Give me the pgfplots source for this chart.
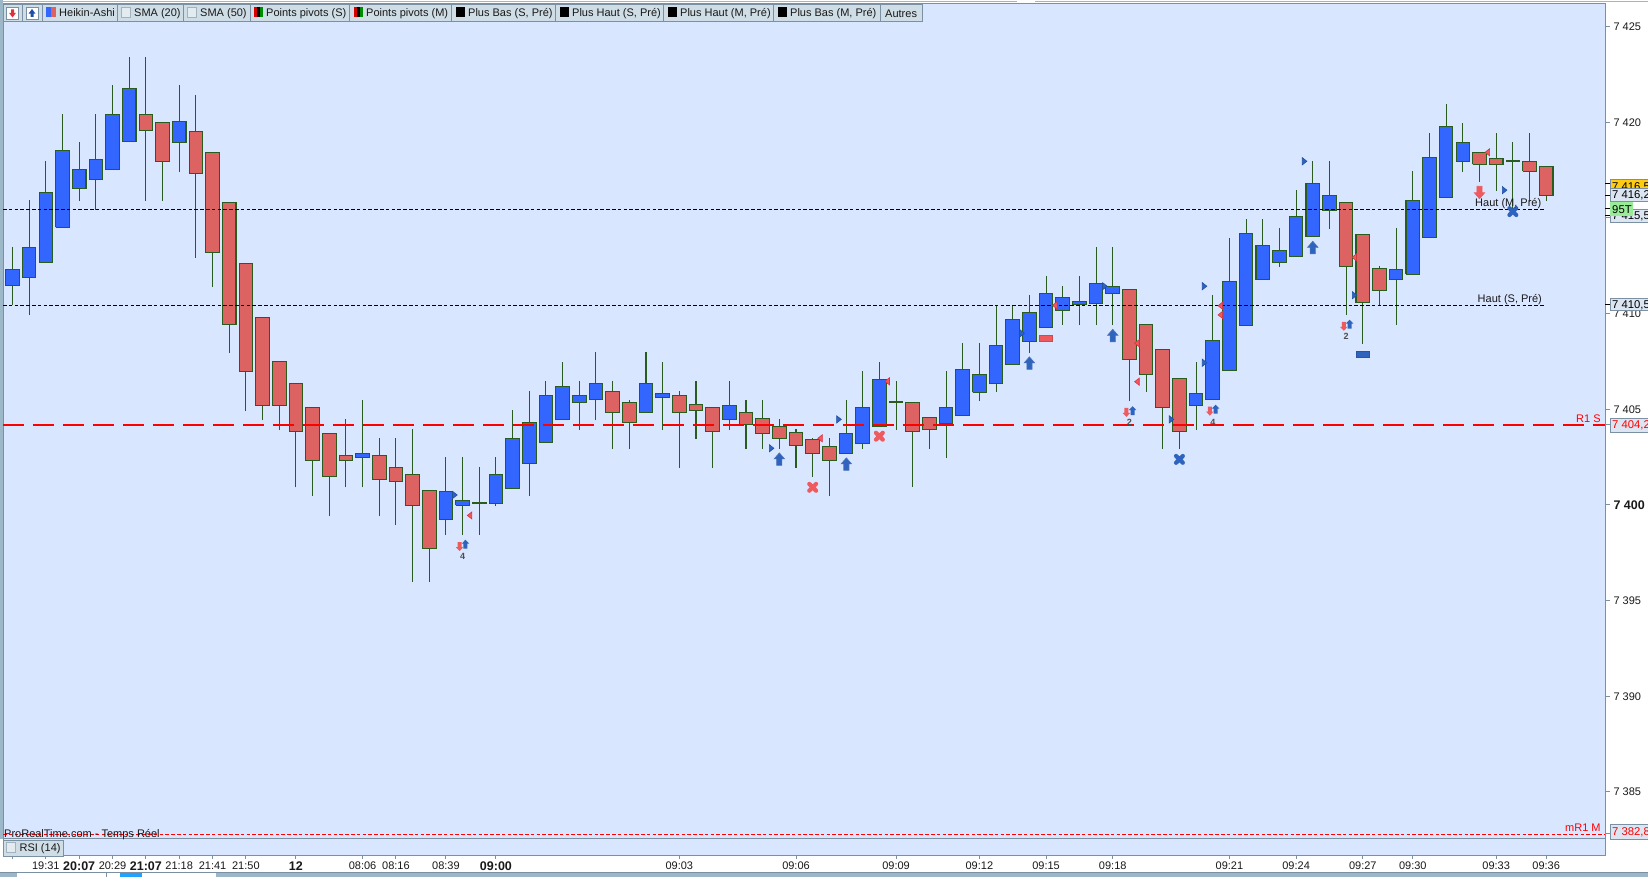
\documentclass[border=0pt]{standalone}
\usepackage{fontspec}
\setmainfont{Liberation Sans}
\usepackage{pgfplots}
\pgfplotsset{compat=1.18}
\definecolor{cBg}{HTML}{D9E6FF}
\definecolor{cBlue}{HTML}{3366FF}
\definecolor{cRed}{HTML}{DD6363}
\definecolor{cEdge}{HTML}{2A5C1E}
\definecolor{cFrame}{HTML}{7B91A3}
\definecolor{cBar}{HTML}{CFDDE6}
\definecolor{cStrip}{HTML}{9CB7C7}
\definecolor{cMarkB}{HTML}{2F64BE}
\definecolor{cMarkBd}{HTML}{1F4FA8}
\definecolor{cMarkR}{HTML}{EE5A5E}
\definecolor{cMarkRd}{HTML}{E03040}
\definecolor{cBox}{HTML}{DCE6F2}
\definecolor{cYel}{HTML}{FFCC11}
\definecolor{cGreen}{HTML}{98EC98}

\newcommand{\sz}{\fontsize{11}{13}\selectfont}
\newcommand{\bl}[1]{{\fontsize{12.5}{13}\selectfont\bfseries #1}}
\pgfplotsset{
  b/.style={draw=cEdge,fill=cBlue,line width=1.05pt},
  r/.style={draw=cEdge,fill=cRed,line width=1.05pt},
}
% i, low, body bottom, body top, high, style
\newcommand{\C}[6]{%
  \pgfmathsetmacro{\xa}{#1-0.408}\pgfmathsetmacro{\xb}{#1+0.408}%
  \addplot[cEdge,line width=1.05pt,forget plot] coordinates {(#1,#2)(#1,#5)};%
  \addplot[#6,forget plot,line join=miter] coordinates {(\xa,#3)(\xb,#3)(\xb,#4)(\xa,#4)(\xa,#3)};%
}

\pgfdeclareplotmark{rtri}{\pgfpathmoveto{\pgfqpoint{-2pt}{3.6pt}}\pgfpathlineto{\pgfqpoint{2.6pt}{0pt}}\pgfpathlineto{\pgfqpoint{-2pt}{-3.6pt}}\pgfpathclose\pgfusepathqfillstroke}
\pgfdeclareplotmark{ltri}{\pgfpathmoveto{\pgfqpoint{2pt}{3.6pt}}\pgfpathlineto{\pgfqpoint{-2.6pt}{0pt}}\pgfpathlineto{\pgfqpoint{2pt}{-3.6pt}}\pgfpathclose\pgfusepathqfillstroke}
\pgfdeclareplotmark{bigup}{\pgfpathmoveto{\pgfqpoint{0pt}{6.5pt}}\pgfpathlineto{\pgfqpoint{5.2pt}{0.5pt}}\pgfpathlineto{\pgfqpoint{2.6pt}{0.5pt}}\pgfpathlineto{\pgfqpoint{2.6pt}{-6pt}}\pgfpathlineto{\pgfqpoint{-2.6pt}{-6pt}}\pgfpathlineto{\pgfqpoint{-2.6pt}{0.5pt}}\pgfpathlineto{\pgfqpoint{-5.2pt}{0.5pt}}\pgfpathclose\pgfusepathqfillstroke}
\pgfdeclareplotmark{bigdn}{\pgfpathmoveto{\pgfqpoint{0pt}{-6.5pt}}\pgfpathlineto{\pgfqpoint{5.2pt}{-0.5pt}}\pgfpathlineto{\pgfqpoint{2.6pt}{-0.5pt}}\pgfpathlineto{\pgfqpoint{2.6pt}{6pt}}\pgfpathlineto{\pgfqpoint{-2.6pt}{6pt}}\pgfpathlineto{\pgfqpoint{-2.6pt}{-0.5pt}}\pgfpathlineto{\pgfqpoint{-5.2pt}{-0.5pt}}\pgfpathclose\pgfusepathqfillstroke}
\pgfdeclareplotmark{smup}{\pgfpathmoveto{\pgfqpoint{0pt}{4.6pt}}\pgfpathlineto{\pgfqpoint{3.8pt}{0.6pt}}\pgfpathlineto{\pgfqpoint{2pt}{0.6pt}}\pgfpathlineto{\pgfqpoint{2pt}{-4.4pt}}\pgfpathlineto{\pgfqpoint{-2pt}{-4.4pt}}\pgfpathlineto{\pgfqpoint{-2pt}{0.6pt}}\pgfpathlineto{\pgfqpoint{-3.8pt}{0.6pt}}\pgfpathclose\pgfusepathqfill}
\pgfdeclareplotmark{smdn}{\pgfpathmoveto{\pgfqpoint{0pt}{-4.6pt}}\pgfpathlineto{\pgfqpoint{3.8pt}{-0.6pt}}\pgfpathlineto{\pgfqpoint{2pt}{-0.6pt}}\pgfpathlineto{\pgfqpoint{2pt}{4.4pt}}\pgfpathlineto{\pgfqpoint{-2pt}{4.4pt}}\pgfpathlineto{\pgfqpoint{-2pt}{-0.6pt}}\pgfpathlineto{\pgfqpoint{-3.8pt}{-0.6pt}}\pgfpathclose\pgfusepathqfill}
\pgfdeclareplotmark{cross}{\pgfsetlinewidth{4.2pt}\pgfsetroundcap\pgfpathmoveto{\pgfqpoint{-3.4pt}{-3.4pt}}\pgfpathlineto{\pgfqpoint{3.4pt}{3.4pt}}\pgfpathmoveto{\pgfqpoint{-3.4pt}{3.4pt}}\pgfpathlineto{\pgfqpoint{3.4pt}{-3.4pt}}\pgfusepathqstroke}
\pgfdeclareplotmark{barm}{\pgfpathrectangle{\pgfqpoint{-6.3pt}{-3.2pt}}{\pgfqpoint{12.6pt}{6.4pt}}\pgfusepathqfillstroke}

\begin{document}
\begin{tikzpicture}
\useasboundingbox (0,0) rectangle (1648pt,877pt);
\fill[white] (0,0) rectangle (1648pt,877pt);

\begin{axis}[
  name=main,
  at={(3pt,38pt)},anchor=south west,
  scale only axis,width=1602pt,height=835pt,
  xmin=-0.57,xmax=95.53,ymin=7382.54,ymax=7426.18,
  axis background/.style={fill=cBg},
  axis line style={draw=cFrame,line width=1pt},
  xtick=\empty,
  ytick={7385,7390,7395,7400,7405,7410,7415,7420,7425},
  yticklabels={7 385,7 390,7 395,\bl{7 400},7 405,7 410,7 415,7 420,7 425},
  ytick pos=right,yticklabel pos=right,
  tick align=outside,
  major tick length=5pt,
  tick style={draw=cFrame,line width=1pt},
  yticklabel style={font=\sz,text=black!90,xshift=0pt},
]
\C{0}{7410.43}{7411.45}{7412.31}{7413.47}{b}
\C{1}{7409.92}{7411.88}{7413.45}{7415.94}{b}
\C{2}{7412.67}{7412.67}{7416.33}{7417.97}{b}
\C{3}{7414.50}{7414.50}{7418.53}{7420.44}{b}
\C{4}{7415.90}{7416.53}{7417.54}{7418.96}{b}
\C{5}{7415.43}{7417.00}{7418.06}{7420.44}{b}
\C{6}{7417.52}{7417.52}{7420.42}{7421.95}{b}
\C{7}{7418.98}{7418.98}{7421.78}{7423.40}{b}
\C{8}{7415.90}{7419.56}{7420.42}{7423.40}{r}
\C{9}{7415.90}{7417.93}{7419.99}{7419.99}{r}
\C{10}{7417.39}{7418.94}{7420.04}{7421.95}{b}
\C{11}{7412.91}{7417.32}{7419.52}{7421.42}{r}
\C{12}{7411.38}{7413.19}{7418.42}{7418.42}{r}
\C{13}{7407.94}{7409.42}{7415.80}{7415.80}{r}
\C{14}{7404.90}{7406.95}{7412.63}{7412.63}{r}
\C{15}{7404.43}{7405.18}{7409.79}{7409.79}{r}
\C{16}{7403.91}{7405.18}{7407.50}{7407.50}{r}
\C{17}{7400.92}{7403.82}{7406.36}{7406.36}{r}
\C{18}{7400.46}{7402.31}{7405.09}{7405.09}{r}
\C{19}{7399.41}{7401.47}{7403.74}{7403.74}{r}
\C{20}{7400.92}{7402.31}{7402.59}{7404.47}{r}
\C{21}{7400.92}{7402.47}{7402.70}{7405.48}{b}
\C{22}{7399.41}{7401.32}{7402.59}{7403.50}{r}
\C{23}{7398.95}{7401.20}{7401.95}{7403.50}{r}
\C{24}{7395.96}{7399.95}{7401.58}{7403.97}{r}
\C{25}{7395.96}{7397.71}{7400.76}{7400.76}{r}
\C{26}{7398.42}{7399.23}{7400.70}{7402.49}{b}
\C{27}{7398.42}{7399.97}{7400.23}{7402.49}{b}
\C{28}{7398.42}{7400.07}{7400.12}{7401.97}{b}
\C{29}{7399.93}{7400.07}{7401.58}{7402.49}{b}
\C{30}{7400.85}{7400.85}{7403.48}{7404.96}{b}
\C{31}{7400.46}{7402.16}{7404.30}{7405.95}{b}
\C{32}{7403.26}{7403.26}{7405.72}{7406.47}{b}
\C{33}{7404.45}{7404.45}{7406.20}{7407.47}{b}
\C{34}{7403.91}{7405.34}{7405.73}{7406.48}{b}
\C{35}{7404.44}{7405.50}{7406.35}{7407.99}{b}
\C{36}{7402.92}{7404.82}{7405.94}{7406.48}{r}
\C{37}{7402.92}{7404.30}{7405.36}{7405.48}{r}
\C{38}{7404.82}{7404.82}{7406.35}{7407.99}{b}
\C{39}{7403.91}{7405.60}{7405.83}{7407.47}{b}
\C{40}{7401.93}{7404.82}{7405.73}{7405.95}{r}
\C{41}{7403.44}{7404.93}{7405.26}{7406.48}{r}
\C{42}{7401.93}{7403.83}{7405.10}{7405.10}{r}
\C{43}{7403.91}{7404.45}{7405.20}{7406.48}{b}
\C{44}{7402.92}{7404.19}{7404.84}{7405.48}{r}
\C{45}{7402.92}{7403.72}{7404.52}{7405.48}{r}
\C{46}{7402.92}{7403.46}{7404.11}{7404.47}{r}
\C{47}{7401.93}{7403.10}{7403.79}{7403.95}{r}
\C{48}{7401.46}{7402.68}{7403.43}{7403.48}{r}
\C{49}{7400.46}{7402.31}{7403.06}{7403.48}{r}
\C{50}{7402.68}{7402.68}{7403.74}{7405.48}{b}
\C{51}{7402.92}{7403.20}{7405.10}{7407.00}{b}
\C{52}{7404.09}{7404.09}{7406.56}{7407.47}{b}
\C{53}{7403.91}{7405.34}{7405.38}{7406.48}{b}
\C{54}{7400.93}{7403.83}{7405.36}{7405.36}{r}
\C{55}{7402.92}{7403.93}{7404.58}{7404.58}{r}
\C{56}{7402.45}{7404.25}{7405.10}{7407.00}{b}
\C{57}{7404.66}{7404.66}{7407.09}{7408.46}{b}
\C{58}{7405.45}{7405.88}{7406.82}{7408.46}{b}
\C{59}{7405.90}{7406.34}{7408.34}{7410.42}{b}
\C{60}{7407.33}{7407.33}{7409.70}{7410.42}{b}
\C{61}{7407.96}{7408.53}{7410.05}{7410.96}{b}
\C{62}{7409.27}{7409.27}{7411.06}{7411.97}{b}
\C{63}{7409.41}{7410.16}{7410.85}{7411.45}{b}
\C{64}{7409.41}{7410.47}{7410.61}{7411.97}{b}
\C{65}{7409.41}{7410.52}{7411.58}{7413.48}{b}
\C{66}{7409.41}{7411.04}{7411.43}{7413.48}{b}
\C{67}{7405.45}{7407.59}{7411.27}{7411.27}{r}
\C{68}{7405.90}{7406.81}{7409.44}{7409.44}{r}
\C{69}{7402.92}{7405.08}{7408.13}{7408.13}{r}
\C{70}{7402.92}{7403.83}{7406.62}{7406.62}{r}
\C{71}{7403.92}{7405.19}{7405.83}{7407.47}{b}
\C{72}{7405.50}{7405.50}{7408.60}{7410.97}{b}
\C{73}{7407.02}{7407.02}{7411.69}{7413.95}{b}
\C{74}{7409.37}{7409.37}{7414.20}{7414.93}{b}
\C{75}{7411.78}{7411.78}{7413.57}{7414.93}{b}
\C{76}{7412.45}{7412.66}{7413.31}{7414.48}{b}
\C{77}{7412.98}{7412.98}{7415.09}{7416.46}{b}
\C{78}{7414.02}{7414.02}{7416.81}{7417.98}{b}
\C{79}{7414.42}{7415.38}{7416.18}{7417.98}{b}
\C{80}{7409.93}{7412.45}{7415.82}{7415.82}{r}
\C{81}{7408.41}{7410.57}{7414.15}{7414.15}{r}
\C{82}{7410.42}{7411.20}{7412.37}{7412.49}{r}
\C{83}{7409.41}{7411.78}{7412.32}{7414.48}{b}
\C{84}{7412.05}{7412.05}{7415.92}{7417.46}{b}
\C{85}{7413.97}{7413.97}{7418.17}{7419.44}{b}
\C{86}{7416.06}{7416.06}{7419.79}{7420.96}{b}
\C{87}{7417.40}{7417.94}{7418.95}{7419.96}{b}
\C{88}{7416.88}{7417.80}{7418.43}{7418.43}{r}
\C{89}{7416.41}{7417.80}{7418.12}{7419.44}{r}
\C{90}{7415.24}{7417.96}{7417.98}{7418.97}{b}
\C{91}{7415.89}{7417.44}{7417.96}{7419.44}{r}
\C{92}{7415.89}{7416.17}{7417.70}{7417.70}{r}

% levels
\addplot[black,line width=1.1pt,dash pattern=on 3.5pt off 2.3pt] coordinates {(-0.57,7415.45)(91.87,7415.45)};
\addplot[black,line width=1.1pt,dash pattern=on 3.5pt off 2.3pt] coordinates {(-0.57,7410.43)(91.87,7410.43)};
\addplot[red,line width=2.2pt,dash pattern=on 21pt off 9pt] coordinates {(-0.57,7404.18)(95.53,7404.18)};
\addplot[red,line width=1.1pt,dash pattern=on 3.5pt off 2.3pt] coordinates {(-0.57,7382.78)(95.53,7382.78)};

% signals
\addplot[only marks,mark=rtri,mark options={fill=cMarkB,draw=cMarkBd,line width=0.6pt}] coordinates {
(26.52,7400.52)(45.52,7402.96)(49.56,7404.47)(60.55,7408.97)(65.51,7411.43)(71.49,7411.43)(71.49,7407.43)(69.51,7404.47)(77.49,7417.96)(80.49,7410.96)(89.49,7416.45)};
\addplot[only marks,mark=ltri,mark options={fill=cMarkR,draw=cMarkRd,line width=0.6pt}] coordinates {
(27.44,7399.45)(48.46,7403.48)(52.49,7406.46)(62.54,7410.43)(67.47,7408.45)(67.47,7406.44)(72.47,7410.41)(72.47,7409.93)(80.51,7412.94)(88.49,7418.43)};
\addplot[only marks,mark=bigup,mark options={fill=cMarkB,draw=cMarkBd!80,line width=0.6pt}] coordinates {
(46,7402.38)(50.02,7402.12)(61,7407.40)(66,7408.84)(78,7413.44)};
\addplot[only marks,mark=bigdn,mark options={fill=cMarkR,draw=cMarkR,line width=0.6pt}] coordinates {(88,7416.34)};
\addplot[only marks,mark=smdn,mark options={fill=cMarkR}] coordinates {
(26.82,7397.83)(66.82,7404.84)(71.82,7404.91)(79.86,7409.34)};
\addplot[only marks,mark=smup,mark options={fill=cMarkB}] coordinates {
(27.17,7397.94)(67.19,7404.92)(72.17,7405.00)(80.21,7409.44)};
\addplot[only marks,mark=cross,mark options={draw=cMarkR}] coordinates {(48,7400.92)(52,7403.59)};
\addplot[only marks,mark=cross,mark options={draw=cMarkB}] coordinates {(70,7402.38)(90,7415.33)};
\addplot[only marks,mark=barm,mark options={fill=cMarkR,draw=cMarkR!85!black,line width=0.6pt}] coordinates {(62,7408.71)};
\addplot[only marks,mark=barm,mark options={fill=cMarkB,draw=cMarkB!85!black,line width=0.6pt}] coordinates {(81,7407.87)};

\tikzset{sig/.style={font=\fontsize{9}{10}\selectfont\bfseries,text=black!70}}
\node[sig] at (axis cs:27,7397.29) {4};
\node[sig] at (axis cs:67,7404.32) {2};
\node[sig] at (axis cs:72,7404.33) {4};
\node[sig] at (axis cs:80,7408.79) {2};
\end{axis}

% RSI panel with the time axis
\begin{axis}[
  at={(3pt,21pt)},anchor=south west,
  scale only axis,width=1602pt,height=17pt,
  xmin=-0.57,xmax=95.53,ymin=0,ymax=100,
  axis background/.style={fill=cBg},
  axis line style={draw=cFrame,line width=1pt},
  ytick=\empty,
  xtick={0,2,4,6,8,10,12,14,17,21,23,26,29,40,47,53,58,62,66,73,77,81,84,89,92},
  xticklabels={,19:31,\bl{20:07},20:29,\bl{21:07},21:18,21:41,21:50,\bl{12},08:06,08:16,08:39,\bl{09:00},09:03,09:06,09:09,09:12,09:15,09:18,09:21,09:24,09:27,09:30,09:33,09:36},
  xtick pos=bottom,
  tick align=outside,major tick length=3pt,
  tick style={draw=cFrame,line width=1pt},
  xticklabel style={font=\sz,text=black!90,yshift=0.5pt},
]
\end{axis}

\begin{scope}[shift={(0,877pt)},x=1pt,y=-1pt]
% window edges
\fill[cStrip] (0,0) rectangle (2.6,839);
\fill[cStrip] (0,873) rectangle (1648,877);
\draw[cFrame,line width=1pt] (0,873) -- (1648,873);
\fill[white] (17,873.5) rectangle (120,877);
\fill[white] (142,873.5) rectangle (216,877);
\draw[cFrame,line width=0.6pt] (106,873.5) -- (106,877);
\fill[cBlue!60!cyan] (120,873.5) rectangle (142,877);
\fill[white] (1017,0) rectangle (1035,1.8);
\draw[cStrip,line width=0.8pt] (0,1.2) -- (1017,1.2) (1035,1.2) -- (1648,1.2);

% toolbar
\foreach \a/\b in {3/22.5,22.5/42.7,42.7/117.4,117.4/183,183/250,250/349,349/451,451/555,555/663,663/773,773/880,880/922}
  \draw[cFrame,line width=0.8pt,fill=cBar] (\a,4) rectangle (\b,21.7);
\tikzset{tb/.style={anchor=base west,inner sep=0pt,font=\sz,text=black!90}}
% page icons
\fill[white,draw=cFrame,line width=0.4pt] (6.5,7.5) rectangle (18.4,19);
\fill[white,draw=cFrame,line width=0.4pt] (26,7.5) rectangle (38,19);
\fill[cMarkRd] (12.5,17.5) -- (9,12.8) -- (11,12.8) -- (11,9.5) -- (14,9.5) -- (14,12.8) -- (16,12.8) -- cycle;
\fill[cMarkBd] (32,9) -- (35.5,13.7) -- (33.5,13.7) -- (33.5,17) -- (30.5,17) -- (30.5,13.7) -- (28.5,13.7) -- cycle;
% Heikin-Ashi
\fill[cBlue] (46,7.3) rectangle (51,17.3);
\fill[cRed] (51,7.3) rectangle (56,17.3);
\node[tb] at (59,17) {Heikin-Ashi};
% SMA
\draw[cFrame!70,fill=cBar!60!white,line width=0.6pt] (121.6,7.3) rectangle (130.5,17.3);
\node[tb] at (134,17) {SMA (20)};
\draw[cFrame!70,fill=cBar!60!white,line width=0.6pt] (187.4,7.3) rectangle (196.3,17.3);
\node[tb] at (200,17) {SMA (50)};
% pivots
\foreach \x in {254,353.5}{
  \fill[black] (\x,7.3) rectangle (\x+9,17.3);
  \fill[red!85!black] (\x,7.3) rectangle (\x+3,17.3);
  \fill[green!55!black] (\x+6,7.3) rectangle (\x+9,17.3);
}
\node[tb] at (266,17) {Points pivots (S)};
\node[tb] at (366,17) {Points pivots (M)};
\foreach \x in {455.5,560,668,777.6}
  \fill[black] (\x,7.3) rectangle (\x+9,17.3);
\node[tb] at (468,17) {Plus Bas (S, Pré)};
\node[tb] at (572,17) {Plus Haut (S, Pré)};
\node[tb] at (680,17) {Plus Haut (M, Pré)};
\node[tb] at (790,17) {Plus Bas (M, Pré)};
\node[tb] at (885,17.8) {Autres};

% RSI button
\draw[cFrame,line width=0.8pt,fill=cBar] (3,840) rectangle (63,856);
\draw[cFrame!70,fill=cBar!60!white,line width=0.6pt] (6.3,842.7) rectangle (15.2,852);
\node[tb] at (19.4,851.5) {RSI (14)};

% text on the chart
\node[anchor=west,inner sep=0pt,font=\sz,text=black!90] at (1475,204) {Haut (M, Pré)};
\node[anchor=west,inner sep=0pt,font=\sz,text=black!90] at (1477.5,300) {Haut (S, Pré)};
\node[anchor=west,inner sep=0pt,font=\sz,text=red] at (1576,418.5) {R1 S};
\node[anchor=west,inner sep=0pt,font=\sz,text=red] at (1565,828) {mR1 M};
\node[anchor=west,inner sep=0pt,font=\sz,text=black!90] at (4,835) {ProRealTime.com - Temps Réel};

% price boxes on the scale
\tikzset{pb/.style={anchor=west,inner sep=0pt,font=\fontsize{11.3}{13}\selectfont}}
\draw[black,line width=1pt] (1605,184) -- (1611,184) (1605,195.5) -- (1611,195.5) (1605,209) -- (1611,209)
  (1605,216) -- (1611,216) (1605,305) -- (1611,305);
\draw[cFrame,line width=1pt] (1605,425) -- (1611,425) (1605,834) -- (1611,834);
\draw[cFrame,line width=1pt,fill=cYel] (1610.5,179.3) rectangle (1660,192);
\node[pb,text=black] at (1612,187) {7 416,5};
\draw[cFrame,line width=1pt,fill=cBox] (1610.5,189) rectangle (1660,202);
\node[pb,text=black] at (1612,195.5) {7 416,2};
\draw[cFrame,line width=1pt,fill=cBox] (1610.5,209.5) rectangle (1660,223);
\node[pb,text=black] at (1612,216.5) {7 415,5};
\fill[cGreen] (1610,202.5) rectangle (1633,216);
\node[pb,text=black] at (1612,209.5) {95T};
\draw[cFrame,line width=1pt,fill=cBox] (1610.5,298.7) rectangle (1660,311);
\node[pb,text=black] at (1612,305) {7 410,5};
\draw[cFrame,line width=1pt,fill=cBox] (1610.5,418.7) rectangle (1660,432.7);
\node[pb,text=red] at (1612,425.5) {7 404,2};
\draw[cFrame,line width=1pt,fill=cBox] (1610.5,825) rectangle (1660,839.3);
\node[pb,text=red] at (1612,832) {7 382,8};
\end{scope}
\end{tikzpicture}
\end{document}
